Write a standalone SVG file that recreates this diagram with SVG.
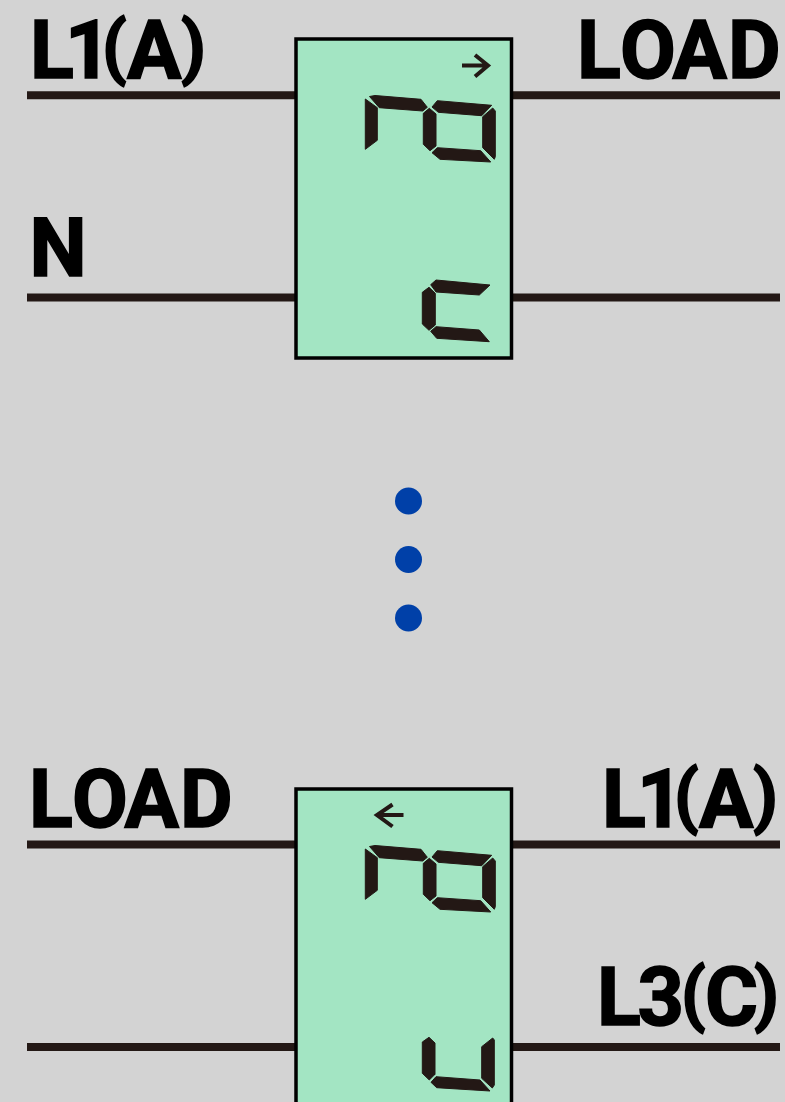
<svg xmlns="http://www.w3.org/2000/svg" width="785" height="1102" viewBox="0 0 785 1102">
<style>
.wire{stroke:#231815;stroke-width:8;fill:none}
.box{fill:#a3e5c3;stroke:#000;stroke-width:3.5}
.seg{fill:#231815;stroke:#231815;stroke-width:1;stroke-linejoin:round}
.arr{stroke:#231815;stroke-width:4;fill:none}
.lbl{font-family:Roboto,"Noto Sans",sans-serif;font-weight:700;font-size:81px;fill:#000;stroke:#000;stroke-width:1.6}
.p{font-size:71px}
.dot{fill:#0040a8}
</style>
<defs>
<g id="no">
<polygon class="seg" points="369.5,96.5 375,95.5 421,99.3 427.3,107.3 422.7,111 379.3,107.7"/>
<polygon class="seg" points="365.3,99 377.3,107.7 377.3,140.3 365.3,149.3"/>
<polygon class="seg" points="429.3,108.3 436,114 436,146 430,150.7 423.3,144.3 423.3,113.3"/>
<polygon class="seg" points="432,107 437.3,100.7 491.7,105.3 481.7,115.7 438.3,112.3"/>
<polygon class="seg" points="492.7,108 495.3,111 495.3,156.7 494.3,159.3 482.7,147.7 482.7,116.7"/>
<polygon class="seg" points="432,152.7 437.3,147.7 480.7,150.7 490.7,162 440,159.3"/>
</g>
</defs>
<rect width="785" height="1102" fill="#d3d3d3"/>
<g id="connectors">
<line class="wire" x1="27" y1="95.3" x2="296" y2="95.3"/>
<line class="wire" x1="511" y1="95.3" x2="780" y2="95.3"/>
<line class="wire" x1="27" y1="297.5" x2="296" y2="297.5"/>
<line class="wire" x1="511" y1="297.5" x2="780" y2="297.5"/>
<line class="wire" x1="27" y1="844.5" x2="296" y2="844.5"/>
<line class="wire" x1="511" y1="844.5" x2="780" y2="844.5"/>
<line class="wire" x1="27" y1="1047" x2="296" y2="1047"/>
<line class="wire" x1="511" y1="1047" x2="780" y2="1047"/>
</g>
<g id="meter-top">
<rect class="box" x="296" y="39" width="215.5" height="319"/>
<use href="#no"/>
<path class="arr" d="M462,65.5H487M475,55L488,65.5L475,76.5"/>
<polygon class="seg" points="430.7,284.7 436,280 490,285 479.3,295 436,292"/>
<polygon class="seg" points="429,287.3 435.3,293.3 435.3,325 429,330.3 422.3,324 422.3,292.3"/>
<polygon class="seg" points="430.7,331.3 436,326.7 479.3,330 489.3,341.7 436.7,338.3"/>
</g>
<g id="meter-bottom">
<rect class="box" x="296" y="789" width="215.5" height="319"/>
<use href="#no" y="750"/>
<path class="arr" d="M403.5,815H378M392.5,804.5L377,815L392.5,826.5"/>
<polygon class="seg" points="429,1037.3 435,1043 435,1074.3 429.3,1080 422.3,1073.3 422.3,1042"/>
<polygon class="seg" points="492.7,1038 494.3,1040 494.3,1085 492.3,1088 481.7,1078.3 481.7,1046.7"/>
<polygon class="seg" points="431,1082.3 436,1076.7 480,1080 490,1091 436.7,1087.7"/>
</g>
<g id="dots">
<circle class="dot" cx="408.5" cy="501" r="13.5"/>
<circle class="dot" cx="408.5" cy="559.5" r="13.5"/>
<circle class="dot" cx="408.5" cy="618" r="13.5"/>
</g>
<g id="labels">
<text class="lbl" x="30 65" y="78">L1<tspan class="p" x="102" y="71">(</tspan><tspan x="127" y="78">A</tspan><tspan class="p" x="181" y="71">)</tspan></text>
<text class="lbl" x="577 620 672.5 728" y="78">LOAD</text>
<text class="lbl" x="29.5" y="276">N</text>
<text class="lbl" x="29 72 124.5 180" y="827">LOAD</text>
<text class="lbl" x="602 637" y="827">L1<tspan class="p" x="674" y="820">(</tspan><tspan x="699" y="827">A</tspan><tspan class="p" x="753" y="820">)</tspan></text>
<text class="lbl" x="597 637.5" y="1025">L3<tspan class="p" x="681" y="1018">(</tspan><tspan x="705" y="1025">C</tspan><tspan class="p" x="754" y="1018">)</tspan></text>
</g>
</svg>
